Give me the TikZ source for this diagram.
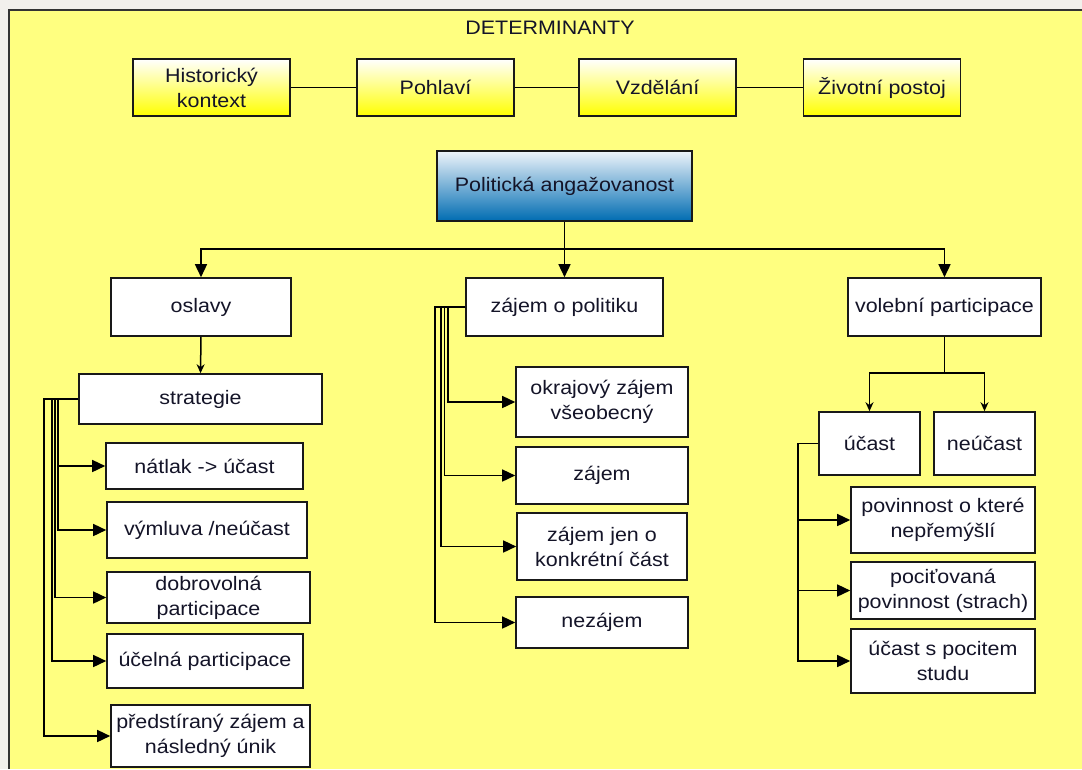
\documentclass[tikz,border=0pt]{standalone}
\usepackage{fontspec}
\setmainfont{Liberation Sans}[FakeStretch=1.1]
\usetikzlibrary{arrows.meta}
\definecolor{bgyellow}{RGB}{255,255,128}
\definecolor{marginc}{RGB}{242,240,236}
\definecolor{detyellow}{RGB}{255,255,0}
\definecolor{poltop}{RGB}{238,244,250}
\definecolor{polbot}{RGB}{0,108,178}
\definecolor{txt}{RGB}{20,20,40}
\begin{document}
\begin{tikzpicture}[x=1pt,y=-1pt,
  every node/.style={font=\fontsize{19.5}{25}\selectfont, text=txt},
  box/.style={draw=black!90, line width=1.6pt, fill=white, align=center, inner sep=0pt},
  detbox/.style={box, top color=white, bottom color=detyellow},
  polbox/.style={box, top color=poltop, bottom color=polbot},
  conn/.style={draw=black, line width=1.5pt},
  bigarrow/.style={conn, -{Triangle[length=13pt,width=12pt]}},
  smallarrow/.style={conn, -{Stealth[length=9pt,width=8pt]}}]
\useasboundingbox (0,0) rectangle (1082,769);
\fill[marginc] (0,0) rectangle (1082,769);
\fill[bgyellow] (9,10) rectangle (1082,769);
\draw[line width=1.6pt, black!80] (9,769) -- (9,10) -- (1082,10);

\node (title) at (550,28) {DETERMINANTY};

% determinants
\node[detbox, minimum width=157pt, minimum height=57pt] (hist) at (211.5,87.5) {Historický\\kontext};
\node[detbox, minimum width=157pt, minimum height=57pt] (pohl) at (435.5,87.5) {Pohlaví};
\node[detbox, minimum width=157pt, minimum height=57pt] (vzd) at (657.5,87.5) {Vzdělání};
\node[detbox, minimum width=157pt, minimum height=57pt] (ziv) at (882,87.5) {Životní postoj};
\draw[conn] (hist) -- (pohl);
\draw[conn] (pohl) -- (vzd);
\draw[conn] (vzd) -- (ziv);

% main
\node[polbox, minimum width=255pt, minimum height=70pt] (pol) at (564.5,186) {Politická angažovanost};

% level 2
\node[box, minimum width=180pt, minimum height=58pt] (oslavy) at (201,307) {oslavy};
\node[box, minimum width=197pt, minimum height=58pt] (zajem) at (564.5,307) {zájem o politiku};
\node[box, minimum width=193pt, minimum height=58pt] (vol) at (944.5,307) {volební participace};

\coordinate (bus) at (564.5,249);
\draw[bigarrow] (pol.south) -- (zajem.north);
\draw[bigarrow] (bus) -| (oslavy.north);
\draw[bigarrow] (bus) -| (vol.north);

% left branch
\node[box, minimum width=243pt, minimum height=50pt] (strat) at (200.5,399) {strategie};
\draw[smallarrow] (oslavy.south) -- (strat.north);
\node[box, minimum width=197pt, minimum height=46pt] (natlak) at (204.5,466) {nátlak -> účast};
\node[box, minimum width=200pt, minimum height=56pt] (vymluva) at (207,530) {výmluva /neúčast};
\node[box, minimum width=203pt, minimum height=51pt] (dobro) at (208.5,597.5) {dobrovolná\\participace};
\node[box, minimum width=196pt, minimum height=54pt] (ucelna) at (205,661) {účelná participace};
\node[box, minimum width=199pt, minimum height=62pt] (predst) at (210.5,736) {předstíraný zájem a\\následný únik};
\draw[bigarrow] (strat.west) -- ++(-20,0) |- (natlak.west);
\draw[bigarrow] (strat.west) -- ++(-20,0) |- (vymluva.west);
\draw[bigarrow] (strat.west) -- ++(-23,0) |- (dobro.west);
\draw[bigarrow] (strat.west) -- ++(-26,0) |- (ucelna.west);
\draw[bigarrow] (strat.west) -- ++(-34,0) |- (predst.west);

% middle branch
\node[box, minimum width=172pt, minimum height=70pt] (okraj) at (602,402) {okrajový zájem\\všeobecný};
\node[box, minimum width=172pt, minimum height=57pt] (zajem2) at (602,475.5) {zájem};
\node[box, minimum width=170pt, minimum height=67pt] (jen) at (602,546.5) {zájem jen o\\konkrétní část};
\node[box, minimum width=172pt, minimum height=51pt] (nezajem) at (602,622.5) {nezájem};
\draw[bigarrow] (zajem.west) -- ++(-17,0) |- (okraj.west);
\draw[bigarrow] (zajem.west) -- ++(-20.5,0) |- (zajem2.west);
\draw[bigarrow] (zajem.west) -- ++(-24,0) |- (jen.west);
\draw[bigarrow] (zajem.west) -- ++(-30,0) |- (nezajem.west);

% right branch
\node[box, minimum width=101pt, minimum height=63pt] (ucast) at (869.5,443.5) {účast};
\node[box, minimum width=101pt, minimum height=63pt] (neucast) at (984.5,443.5) {neúčast};
\coordinate (vbus) at (944.5,373);
\draw[conn] (vol.south) -- (vbus);
\draw[smallarrow] (vbus) -| (ucast.north);
\draw[smallarrow] (vbus) -| (neucast.north);
\node[box, minimum width=184pt, minimum height=66pt] (povin) at (943,520) {povinnost o které\\nepřemýšlí};
\node[box, minimum width=184pt, minimum height=57pt] (pocit) at (943,590.5) {pociťovaná\\povinnost (strach)};
\node[box, minimum width=184pt, minimum height=64pt] (studu) at (943,661) {účast s pocitem\\studu};
\draw[bigarrow] (ucast.west) -- ++(-20,0) |- (povin.west);
\draw[bigarrow] (ucast.west) -- ++(-20,0) |- (pocit.west);
\draw[bigarrow] (ucast.west) -- ++(-20,0) |- (studu.west);
\end{tikzpicture}
\end{document}
